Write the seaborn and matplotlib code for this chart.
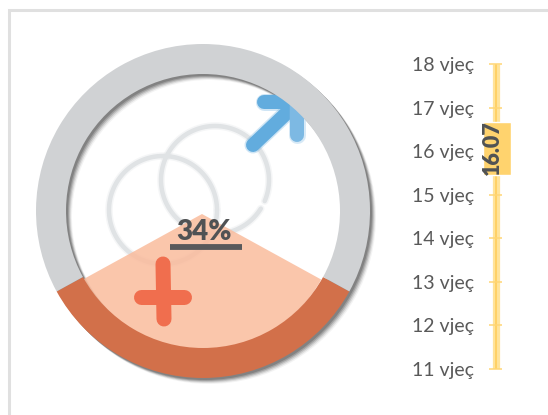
import matplotlib
matplotlib.use('Agg')
import matplotlib.pyplot as plt
import seaborn as sns
import numpy as np

W, H = 548, 415

ages = [11, 12, 13, 14, 15, 16, 17, 18]
age_labels = ['11 vjeç', '12 vjeç', '13 vjeç', '14 vjeç', '15 vjeç', '16 vjeç', '17 vjeç', '18 vjeç']
mean_age = 16.07
share_values = [34, 66]
share_label = '34%'

TEXT = '#595959'
GREY = '#D0D2D4'
ORANGE = '#D2704A'
PEACH = '#FABC9D'
BLUE = '#62ACDE'
RED = '#F06E4E'
ICON_GREY = '#E0E3E5'
YELLOW = '#FFD36E'

sns.set_theme(style='white')
plt.rcParams['font.family'] = ['Lato', 'DejaVu Sans']

fig = plt.figure(figsize=(W / 100, H / 100), dpi=100)
ax = fig.add_axes([0, 0, 1, 1])


def px(x, y):
    # picture pixels to axes coords (y counted from the top)
    return x, H - y


def stroke(points, color, width, alpha=1.0, zorder=3):
    xs, ys = zip(*[px(*p) for p in points])
    ax.plot(xs, ys, color=color, lw=width * 0.72, alpha=alpha, solid_capstyle='round', zorder=zorder)


def soft_stroke(points, color, width, zorder=3):
    # blurred look of the icons
    stroke(points, color, width + 3, alpha=0.3, zorder=zorder)
    stroke(points, color, width, zorder=zorder)


def ring(center, color, radius=167, width=30, alpha=1.0, zorder=2):
    colors = color if isinstance(color, list) else [color, color]
    wedges, _ = ax.pie(share_values, colors=colors, center=center, radius=radius,
                       startangle=270 - share_values[0] * 3.6 / 2, frame=True,
                       wedgeprops=dict(width=width, alpha=alpha, linewidth=0, zorder=zorder))
    return wedges


# frame of the sheet
ax.plot(*zip(px(8.5, H), px(8.5, 10.5), px(W, 10.5)), color='#E0E0E0', lw=2.2, zorder=1, solid_joinstyle='miter')

c = px(203, 211)

# soft shadow of the ring
for off, a in [(6, 0.06), (5, 0.12), (4, 0.18), (3, 0.25), (2, 0.3)]:
    ring((c[0] + off, c[1] - off), '#404040', alpha=a, zorder=2)

# gender icons behind the translucent slice
t = np.linspace(0, 2 * np.pi, 200)
soft_stroke(list(zip(163 + 54 * np.cos(t), 210 + 54 * np.sin(t))), ICON_GREY, 4.5)
t = np.radians(np.linspace(-23, 328, 200))
soft_stroke(list(zip(215 + 54 * np.cos(t), 180 - 54 * np.sin(t))), ICON_GREY, 4.5)

soft_stroke([(253, 145), (294, 106)], BLUE, 14, zorder=4)
soft_stroke([(264, 102), (292, 102)], BLUE, 14, zorder=4)
soft_stroke([(297, 104), (297, 135)], '#7DB9E3', 14, zorder=4)

# slice to the centre, then the ring itself
ax.pie(share_values, colors=[PEACH, 'none'], center=px(202, 214), radius=136,
       startangle=270 - share_values[0] * 3.6 / 2, frame=True,
       wedgeprops=dict(alpha=0.85, linewidth=0, zorder=5))
ring(c, [ORANGE, GREY], zorder=6)

stroke([(163, 264), (164, 319)], RED, 15, zorder=7)
stroke([(141, 297), (184, 297)], RED, 15, zorder=7)

x_txt, y_txt = px(204, 232)
ax.text(x_txt, y_txt, share_label, color='#505254', fontsize=20, fontweight='heavy',
        ha='center', va='center', zorder=8)
ax.plot(*zip(px(170, 247), px(242, 247)), color='#58595B', lw=4.2, solid_capstyle='butt', zorder=8)

ax.set_xlim(0, W)
ax.set_ylim(0, H)
ax.set_aspect('equal')
ax.axis('off')

# age scale, x runs in pixels so the label box can sit off the line
top, bottom = 64, 369
g = fig.add_axes([483 / W, 1 - bottom / H, 28 / W, (bottom - top) / H], facecolor='none')
scale = {'x': [496] * len(ages), 'age': ages}
sns.lineplot(data=scale, x='x', y='age', ax=g, color='#FFE39A', lw=5.2, solid_capstyle='butt',
             estimator=None, sort=False, zorder=2)
sns.lineplot(data=scale, x='x', y='age', ax=g, color='#FFCE5C', lw=1.2, solid_capstyle='butt',
             estimator=None, sort=False, zorder=3)
g.hlines(ages, 489, 502, color='#FFD675', lw=1.1, zorder=3, clip_on=False)
g.barh(mean_age, 28, left=483, height=53 / ((bottom - top) / (ages[-1] - ages[0])), color=YELLOW, zorder=4)
g.text(492, mean_age, f'{mean_age:.2f}', rotation=90, color='#505254', fontsize=15.5, fontweight='heavy',
       ha='center', va='center', zorder=5)

g.set_xlim(483, 511)
g.set_ylim(ages[0], ages[-1])
g.set_xlabel('')
g.set_ylabel('')
g.set_xticks([])
g.set_yticks(ages)
g.set_yticklabels(age_labels, color=TEXT, fontsize=14, va='center_baseline')
g.tick_params(axis='y', length=0, pad=6.5)
sns.despine(ax=g, left=True, bottom=True)

fig.savefig('out.png', dpi=100)
